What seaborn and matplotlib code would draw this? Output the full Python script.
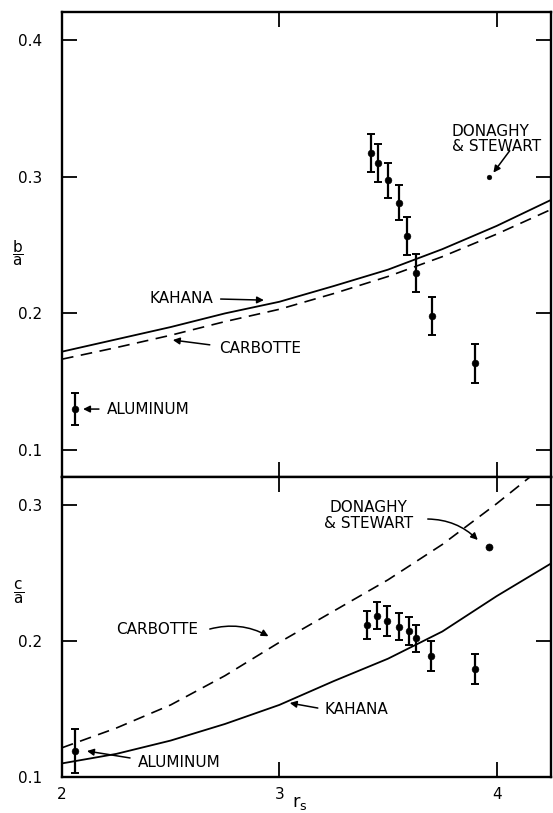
import pandas as pd
import seaborn as sns
from matplotlib import pyplot as plt

# theory curves (rs grid)
rs_curve = [2.0, 2.25, 2.5, 2.75, 3.0, 3.25, 3.5, 3.75, 4.0, 4.25]
ba_kahana = [0.172, 0.181, 0.190, 0.200, 0.2085, 0.220, 0.232, 0.247, 0.264, 0.283]
ba_carbotte = [0.1665, 0.175, 0.184, 0.194, 0.203, 0.2145, 0.227, 0.2415, 0.258, 0.276]
ca_kahana = [0.110, 0.117, 0.1268, 0.139, 0.153, 0.1705, 0.187, 0.207, 0.233, 0.257]
ca_carbotte = [0.1215, 0.136, 0.153, 0.1745, 0.199, 0.222, 0.245, 0.271, 0.301, 0.333]

# measured points
rs_b = [3.421, 3.454, 3.499, 3.551, 3.588, 3.631, 3.704, 3.900]
ba_pts = [0.3176, 0.310, 0.2973, 0.281, 0.2566, 0.2298, 0.198, 0.1634]
ba_err = [0.014, 0.014, 0.013, 0.013, 0.014, 0.014, 0.014, 0.014]
rs_c = [3.402, 3.450, 3.496, 3.551, 3.597, 3.631, 3.700, 3.900]
ca_pts = [0.2118, 0.2186, 0.2145, 0.2105, 0.2074, 0.2019, 0.1893, 0.1796]
ca_err = [0.010, 0.010, 0.011, 0.010, 0.010, 0.010, 0.011, 0.011]

rs_al = 2.06
ba_al, ba_al_err = 0.130, 0.012
ca_al, ca_al_err = 0.119, 0.016
rs_ds = 3.963
ba_ds = 0.300
ca_ds = 0.269

sns.set_style("ticks")
plt.rcParams['font.family'] = ['DejaVu Sans']
plt.rcParams['mathtext.fontset'] = 'dejavusans'
for key in ['text.color', 'axes.labelcolor', 'xtick.color', 'ytick.color', 'axes.edgecolor']:
    plt.rcParams[key] = 'black'

fig = plt.figure(figsize=(5.53, 8.13), dpi=100)
W, H = 553, 813
ax1 = fig.add_axes([62 / W, 1 - 477 / H, 489 / W, 465 / H])
ax2 = fig.add_axes([62 / W, 1 - 777 / H, 489 / W, 300 / H])

curves = pd.DataFrame({'rs': rs_curve, 'bk': ba_kahana, 'bc': ba_carbotte,
                       'ck': ca_kahana, 'cc': ca_carbotte})

for ax, k, c in [(ax1, 'bk', 'bc'), (ax2, 'ck', 'cc')]:
    sns.lineplot(data=curves, x='rs', y=k, ax=ax, color='k', lw=1.3)
    sns.lineplot(data=curves, x='rs', y=c, ax=ax, color='k', lw=1.2)
    ax.lines[-1].set_dashes((7, 4.5))

# top panel points
ax1.errorbar(rs_b + [rs_al], ba_pts + [ba_al], yerr=ba_err + [ba_al_err], fmt='none',
             ecolor='k', elinewidth=1.6, capsize=3.2, capthick=1.4)
sns.scatterplot(x=rs_b + [rs_al], y=ba_pts + [ba_al], ax=ax1, color='k', s=24,
                edgecolor='k', zorder=5)
sns.scatterplot(x=[rs_ds], y=[ba_ds], ax=ax1, color='k', s=12, edgecolor='k', zorder=5)

# bottom panel points
ax2.errorbar(rs_c + [rs_al], ca_pts + [ca_al], yerr=ca_err + [ca_al_err], fmt='none',
             ecolor='k', elinewidth=1.6, capsize=3.2, capthick=1.4)
sns.scatterplot(x=rs_c + [rs_al], y=ca_pts + [ca_al], ax=ax2, color='k', s=24,
                edgecolor='k', zorder=5)
sns.scatterplot(x=[rs_ds], y=[ca_ds], ax=ax2, color='k', s=26, edgecolor='k', zorder=5)

for ax in (ax1, ax2):
    ax.set_xlim(2.0, 4.25)
    ax.set_xticks([2, 3, 4])
    ax.set_xlabel('')
    ax.set_ylabel('')
    ax.tick_params(direction='in', length=11, width=1.3, top=True, right=True,
                   labelsize=11, pad=14, colors='k')
    ax.tick_params(axis='x', pad=7)
    for sp in ax.spines.values():
        sp.set_linewidth(1.7)
        sp.set_color('k')
        sp.set_visible(True)

ax1.set_ylim(0.0803, 0.4205)
ax1.set_yticks([0.1, 0.2, 0.3, 0.4])
ax1.set_yticklabels(['0.1', '0.2', '0.3', '0.4'])
ax1.tick_params(axis='x', labelbottom=False)

ax2.set_ylim(0.1, 0.3206)
ax2.set_yticks([0.1, 0.2, 0.3])
ax2.set_yticklabels(['0.1', '0.2', '0.3'])
ax2.set_xticklabels(['2', '3', '4'])

arrow = dict(arrowstyle='-|>', color='k', lw=1.1, mutation_scale=10, shrinkA=0, shrinkB=0)
fs = 11

# top panel labels
ax1.text(2.547, 0.2112, 'KAHANA', fontsize=fs, ha='center', va='center')
ax1.annotate('', xy=(2.929, 0.2097), xytext=(2.73, 0.2105), arrowprops=arrow)
ax1.text(2.91, 0.1746, 'CARBOTTE', fontsize=fs, ha='center', va='center')
ax1.annotate('', xy=(2.51, 0.1805), xytext=(2.68, 0.1770), arrowprops=arrow)
ax1.text(2.395, 0.130, 'ALUMINUM', fontsize=fs, ha='center', va='center')
ax1.annotate('', xy=(2.097, 0.130), xytext=(2.17, 0.130), arrowprops=arrow)
ax1.text(3.793, 0.3275, 'DONAGHY\n& STEWART', fontsize=fs, ha='left', va='center',
         linespacing=1.05)
ax1.annotate('', xy=(3.985, 0.3030), xytext=(4.06, 0.3190), arrowprops=arrow)

# bottom panel labels
ax2.text(2.437, 0.2088, 'CARBOTTE', fontsize=fs, ha='center', va='center')
ax2.annotate('', xy=(2.950, 0.2035), xytext=(2.68, 0.2088),
             arrowprops=dict(arrow, connectionstyle='arc3,rad=-0.2'))
ax2.text(2.538, 0.1103, 'ALUMINUM', fontsize=fs, ha='center', va='center')
ax2.annotate('', xy=(2.115, 0.1191), xytext=(2.313, 0.1140), arrowprops=arrow)
ax2.text(3.411, 0.2923, 'DONAGHY\n& STEWART', fontsize=fs, ha='center', va='center',
         linespacing=1.05)
ax2.annotate('', xy=(3.913, 0.2743), xytext=(3.683, 0.2897),
             arrowprops=dict(arrow, connectionstyle='arc3,rad=-0.2'))
ax2.text(3.356, 0.1493, 'KAHANA', fontsize=fs, ha='center', va='center')
ax2.annotate('', xy=(3.048, 0.1544), xytext=(3.177, 0.1507), arrowprops=arrow)

# axis labels
fig.text(18 / W, 1 - 253 / H, r'$\mathregular{\dfrac{b}{a}}$', fontsize=11, ha='center', va='center')
fig.text(19 / W, 1 - 593 / H, r'$\mathregular{\dfrac{c}{a}}$', fontsize=11, ha='center', va='center')
fig.text(300 / W, 1 - 803 / H, r'$\mathregular{r_s}$', fontsize=13, ha='center', va='center')

fig.savefig('out.png', dpi=100)
